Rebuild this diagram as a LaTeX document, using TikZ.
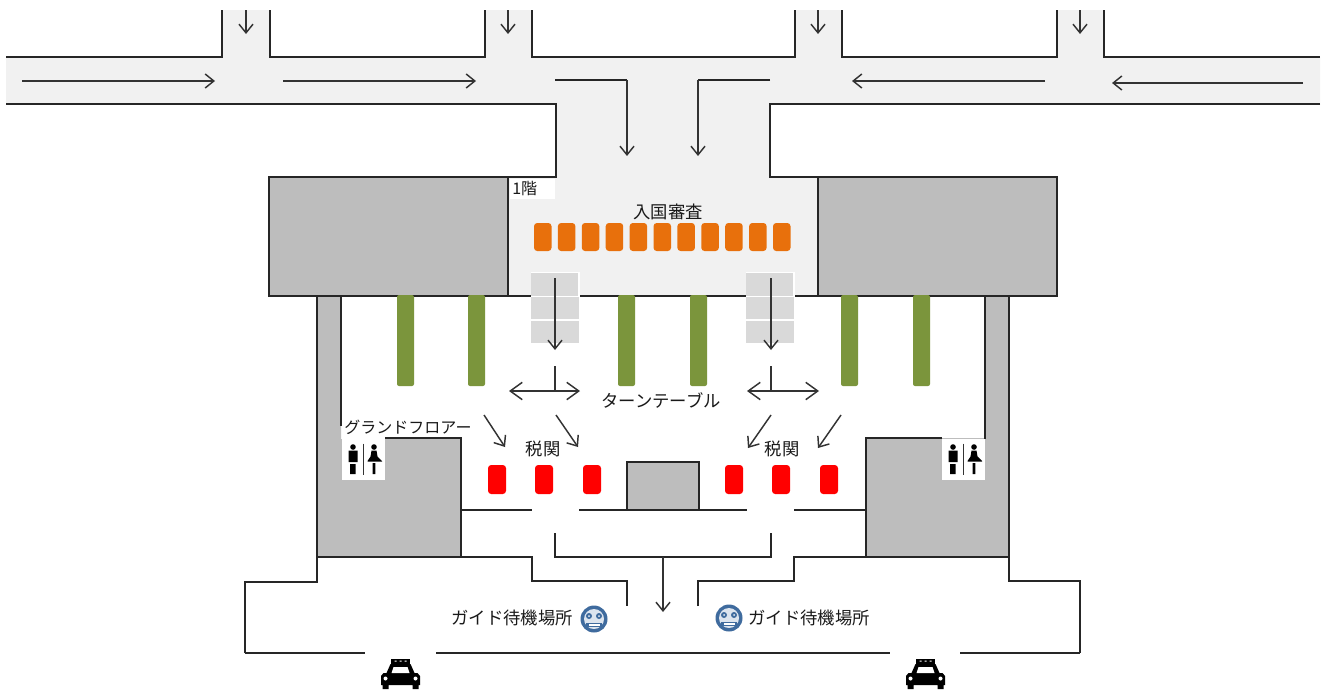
\documentclass[tikz,border=0pt]{standalone}
\usepackage{fontspec}
\usetikzlibrary{arrows.meta}
\newfontfamily\cjk{Noto Sans CJK JP}
\tikzset{
  x=0.75pt,y=-0.75pt,
  wall/.style={draw=black!85,line width=1.4pt,line join=miter},
  block/.style={fill=black!26,draw=black!85,line width=1.4pt},
  arrowline/.style={draw=black!80,line width=1.1pt,-{Straight Barb[length=6.5pt,width=10.5pt,line width=1.1pt]}},
  twoway/.style={draw=black!80,line width=1.1pt,{Straight Barb[length=9pt,width=13pt,line width=1.1pt]}-{Straight Barb[length=9pt,width=13pt,line width=1.1pt]}},
  orangebox/.style={fill=orange1,rounded corners=2.4pt},
  redbox/.style={fill=red,rounded corners=2.4pt},
  greenbar/.style={fill=green1,rounded corners=1.5pt},
  label/.style={font=\cjk\fontsize{13}{13}\selectfont,inner sep=0pt,text=black!90},
  smalllabel/.style={font=\cjk\fontsize{12}{12}\selectfont,inner sep=0pt,text=black!90},
  pics/toilet/.style={code={
    \fill[white] (-21.5,-20.5) rectangle (21.5,20.5);
    \fill[black] (-10.5,-12.5) circle[radius=2.8] (-15,-9) rectangle (-6,2.5) (-13.5,4.5) rectangle (-8,14.5);
    \draw[black!80,line width=1.1pt] (0,-16) -- (0,15.5);
    \fill[black] (10.5,-12.5) circle[radius=2.8] (8,-9) -- (13,-9) -- (14,-3) -- (18.5,1.5) -- (18.5,2) -- (4,2) -- (4,1.5) -- (7,-3) -- cycle (9.2,3.5) rectangle (11.8,14.5);
  }},
  pics/smile/.style={code={
    \fill[blue1] (0,0) circle[radius=13.5];
    \fill[blue2] (0,0) circle[radius=10];
    \fill[blue1] (-5,-3) circle[radius=3] (5,-3) circle[radius=3];
    \fill[blue2!60!white] (-5,-3) circle[radius=1] (5,-3) circle[radius=1];
    \fill[blue1] (-8,3.5) rectangle (8,8);
    \fill[white] (-5.5,4.8) rectangle (5.5,6.8);
  }},
  pics/taxi/.style={code={
    \fill[black] (-9.5,0) rectangle (9.5,5);
    \fill[white] (-6,1.5) rectangle (-4,2.5) (-1,1.5) rectangle (1,2.5) (4,1.5) rectangle (6,2.5);
    \fill[black] (-14,14) -- (-10,5) -- (10,5) -- (14,14) -- (17,14) -- (19.5,17) -- (19.5,26) -- (18,26) -- (18,30) -- (12,30) -- (12,26)
      -- (-12,26) -- (-12,30) -- (-18,30) -- (-18,26) -- (-19.5,26) -- (-19.5,17) -- (-17,14) -- cycle;
    \fill[white] (-9,14) -- (-7,8) -- (7,8) -- (9,14) -- cycle;
    \fill[white] (-15,19.5) circle[radius=2] (15,19.5) circle[radius=2];
  }}
}
\definecolor{orange1}{HTML}{E8700C}
\definecolor{green1}{HTML}{7B953C}
\definecolor{blue1}{HTML}{3F6B9E}
\definecolor{blue2}{HTML}{DCE4EE}
\definecolor{floorc}{HTML}{F1F1F1}
\definecolor{escal}{HTML}{D9D9D9}
\begin{document}
\begin{tikzpicture}
\useasboundingbox (0,0) rectangle (1323,689);
\fill[white] (0,0) rectangle (1323,689);
% floors
\fill[floorc] (6,57) -- (222,57) -- (222,10) -- (270,10) -- (270,57) -- (485,57) -- (485,10) -- (532,10) -- (532,57)
  -- (795,57) -- (795,10) -- (842,10) -- (842,57) -- (1057,57) -- (1057,10) -- (1104,10) -- (1104,57) -- (1320,57)
  -- (1320,104) -- (770,104) -- (770,177) -- (818,177) -- (818,296) -- (508,296) -- (508,177) -- (556,177) -- (556,104) -- (6,104) -- cycle;
% gray blocks
\fill[black!26] (317,296) rectangle (341,557) (317,439) rectangle (461,557);
\fill[black!26] (985,296) rectangle (1009,557) (866,438) rectangle (1009,557);
\draw[block] (269,177) rectangle (508,296);
\draw[block] (818,177) rectangle (1057,296);
\draw[block] (627,510) -- (627,462) -- (699,462) -- (699,510);
% walls
\draw[wall] (6,57) -- (222,57) -- (222,10) (270,10) -- (270,57) -- (485,57) -- (485,10) (532,10) -- (532,57) -- (795,57) -- (795,10)
  (842,10) -- (842,57) -- (1057,57) -- (1057,10) (1104,10) -- (1104,57) -- (1320,57);
\draw[wall] (6,104) -- (556,104) -- (556,177) -- (508,177) (1320,104) -- (770,104) -- (770,177) -- (818,177);
\draw[wall] (555,80) -- (627,80) (770,80) -- (698,80);
\draw[wall] (269,296) -- (1057,296);
\draw[wall] (341,296) -- (341,426) (317,296) -- (317,557) (385,438) -- (461,438) -- (461,557);
\draw[wall] (985,296) -- (985,439) (1009,296) -- (1009,557) (942,438) -- (866,438) -- (866,557);
\draw[wall] (461,510) -- (532,510) (579,510) -- (747,510) (794,510) -- (866,510);
\draw[wall] (555,533) -- (555,557) -- (771,557) -- (771,533);
\draw[wall] (245,653) -- (245,582) -- (317,582) -- (317,557) -- (532,557) -- (532,581) -- (627,581) -- (627,606);
\draw[wall] (698,606) -- (698,581) -- (794,581) -- (794,557) -- (1009,557) -- (1009,581) -- (1080,581) -- (1080,653);
\draw[wall] (245,653) -- (365,653) (436,653) -- (890,653) (960,653) -- (1080,653);
% escalators
\foreach \ex in {531,746}{
  \fill[white] (\ex-0.5,272) rectangle ++(49,72);
  \fill[escal] (\ex,273) rectangle ++(47,22.5);
  \fill[escal] (\ex,297) rectangle ++(48,22);
  \fill[escal] (\ex,321) rectangle ++(48,22);
}
% counters
\foreach \i in {0,...,10}{ \fill[orangebox] ({534+23.9*\i},223) rectangle ++(17.5,28); }
\foreach \rx in {488,535,583,725,772,820}{ \fill[redbox] (\rx,465) rectangle ++(18,29); }
\foreach \gx in {397,468,618,690,841,913}{ \fill[greenbar] (\gx,295) rectangle ++(17,91); }
% named ends for connectors
\foreach \n/\ax/\ay in {a1/22/81,a2/215/81,b1/283/81,b2/476/81,c1/1045/81,c2/852/81,d1/1303/83,d2/1112/83,
  e1/246/10,e2/246/34,f1/508/10,f2/508/34,g1/818/10,g2/818/34,h1/1080/10,h2/1080/34,
  i1/627/80,i2/627/156,j1/698/80,j2/698/156,k1/555/278,k2/555/350,l1/771/278,l2/771/350,
  m1/555/366,m2/555/391,n1/771/366,n2/771/391,o1/509/391,o2/580/391,p1/747/391,p2/819/391,
  q1/484/415,q2/505/447,r1/556/415,r2/578/447,s1/771/415,s2/748/448,t1/841/415,t2/818/448,u1/663/557,u2/663/612}
  {\coordinate (\n) at (\ax,\ay);}
\foreach \p/\q in {a1/a2,b1/b2,c1/c2,d1/d2,e1/e2,f1/f2,g1/g2,h1/h2,i1/i2,j1/j2,k1/k2,l1/l2,q1/q2,r1/r2,s1/s2,t1/t2,u1/u2}
  {\draw[arrowline] (\p) -- (\q);}
\draw[twoway] (o1) -- (o2);
\draw[twoway] (p1) -- (p2);
\draw[draw=black!80,line width=1.1pt] (m1) -- (m2) (n1) -- (n2);
% labels
\fill[white] (510,179) rectangle (555,199);
\node[smalllabel,anchor=west] (floor1) at (512,189) {1階};
\node[label] (immig) at (668,212) {入国審査};
\node[label] (turn) at (661,400) {ターンテーブル};
\node[smalllabel] (ground) at (408,427) {グランドフロアー};
\node[label] (cust1) at (543,449) {税関};
\node[label] (cust2) at (782,449) {税関};
\node[label] (guide1) at (512,618) {ガイド待機場所};
\node[label] (guide2) at (809,618) {ガイド待機場所};
% icons
\pic at (363.5,459.5) {toilet};
\pic at (963.5,459.5) {toilet};
\pic at (594,619) {smile};
\pic at (729,618) {smile};
\pic at (400.5,659) {taxi};
\pic at (925.5,659) {taxi};
\end{tikzpicture}
\end{document}
